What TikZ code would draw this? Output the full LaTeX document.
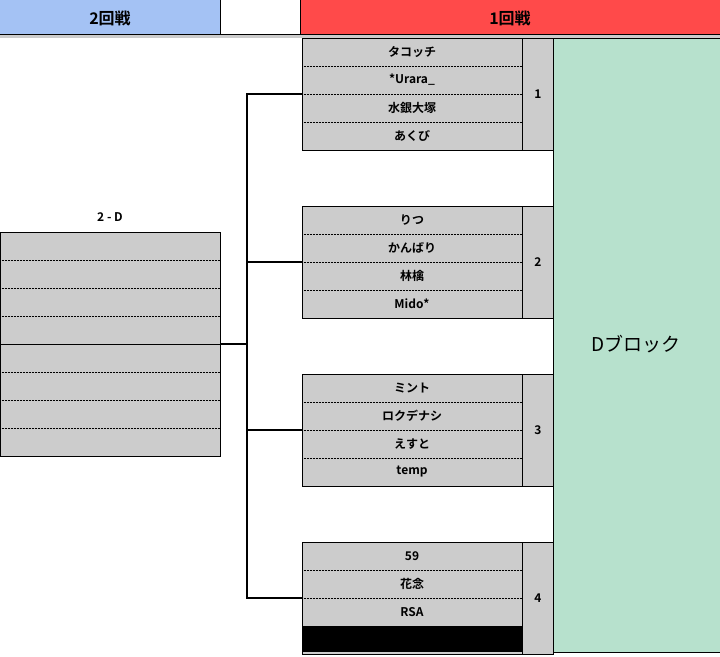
\documentclass[tikz,border=0pt]{standalone}
\usepackage{fontspec}
\setmainfont{Noto Sans CJK JP}[BoldFont={Noto Sans CJK JP Bold}]
\usetikzlibrary{positioning}

\definecolor{hdrblue}{HTML}{A4C2F4}
\definecolor{hdrred}{HTML}{FF4A4A}
\definecolor{cellgray}{HTML}{CCCCCC}
\definecolor{blockgreen}{HTML}{B7E1CD}

\tikzset{
    cell/.style={draw=black, line width=1pt, fill=cellgray},
    sep/.style={densely dotted, line width=0.5pt},
    entry/.style={font=\bfseries\fontsize{12}{12}\selectfont},
    wire/.style={line width=1.2pt}
}

\begin{document}
\begin{tikzpicture}[x=1pt, y=-1pt]

    \useasboundingbox (0,0) rectangle (720,656);

    % Header row
    \fill[hdrblue] (0,0) rectangle (220,34);
    \fill[hdrred] (300,0) rectangle (720,34);
    \draw[line width=1pt] (0,34) -- (720,34);
    \draw[line width=1pt] (220,0) -- (220,34);
    \draw[line width=1pt] (300,0) -- (300,34);
    \fill[cellgray] (0,35) rectangle (720,38);
    \node[font=\bfseries\fontsize{16}{16}\selectfont] (r2) at (110,18) {2回戦};
    \node[font=\bfseries\fontsize{16}{16}\selectfont] (r1) at (510,18) {1回戦};

    % Block column
    \draw[line width=1pt, fill=blockgreen] (553,38) rectangle (720,652);
    \node[font=\fontsize{19}{19}\selectfont] (blk) at (636,344) {Dブロック};

    % Second round box
    \node[entry] (seed) at (110,217) {2 - D};
    \draw[cell] (0,232) rectangle (220,456);
    \foreach \i in {1,2,3,5,6,7}
        \draw[sep] (0,232+28*\i) -- (220,232+28*\i);
    \draw[line width=1pt] (0,344) -- (220,344);
    \coordinate (out) at (220,344);
    \coordinate (hub) at (247,344);

    % First round groups
    \foreach \g/\top/\a/\b/\c/\d in {
        1/38/タコッチ/*Urara\_/水銀大塚/あくび,
        2/206/りつ/かんばり/林檎/Mido*,
        3/374/ミント/ロクデナシ/えすと/temp,
        4/542/59/花念/RSA/{}} {
        \draw[cell] (302,\top) rectangle (522,\top+112);
        \draw[cell] (522,\top) rectangle (553,\top+112);
        \foreach \k in {1,2,3}
            \draw[sep] (302,\top+28*\k) -- (522,\top+28*\k);
        \node[entry] (g\g a) at (412,\top+14) {\a};
        \node[entry] (g\g b) at (412,\top+42) {\b};
        \node[entry] (g\g c) at (412,\top+70) {\c};
        \node[entry] (g\g d) at (412,\top+98) {\d};
        \node[entry] (n\g) at (538,\top+56) {\g};
        \coordinate (in\g) at (302,\top+56);
    }
    \fill[black] (302,626) rectangle (522,652);

    % Bracket lines
    \draw[wire] (out) -- (hub);
    \draw[wire] (in1) -| (hub) |- (in4);
    \draw[wire] (in2) -- (in2 -| hub);
    \draw[wire] (in3) -- (in3 -| hub);

\end{tikzpicture}
\end{document}
